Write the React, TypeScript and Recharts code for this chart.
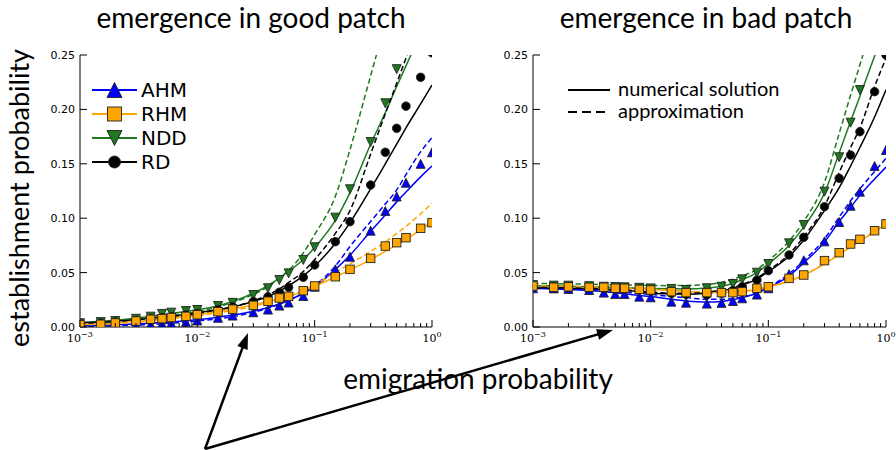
import React from "react";
import { LineChart, Line, XAxis, YAxis } from "recharts";

// emigration probabilities used for both the simulation points and the curves
const emigration = [0.001, 0.0015, 0.002, 0.003, 0.004, 0.005, 0.006, 0.008, 0.01, 0.015, 0.02, 0.03, 0.04, 0.05, 0.06, 0.08, 0.1, 0.15, 0.2, 0.3, 0.4, 0.5, 0.6, 0.8, 1.0];

// ---- emergence in good patch ----
// simulations (markers)
const goodSimAHM = [0.001, 0.0012, 0.0015, 0.002, 0.0025, 0.003, 0.0035, 0.0045, 0.006, 0.0085, 0.0105, 0.0135, 0.016, 0.0197, 0.0225, 0.0285, 0.037, 0.053, 0.0646, 0.0885, 0.1066, 0.12, 0.1326, 0.15, 0.1606];
const goodSimRHM = [0.0022, 0.0025, 0.0037, 0.0055, 0.0071, 0.0077, 0.0087, 0.0098, 0.0113, 0.0141, 0.0164, 0.0199, 0.0237, 0.0267, 0.0282, 0.0334, 0.0377, 0.0462, 0.053, 0.0631, 0.0744, 0.0775, 0.0821, 0.0907, 0.0959];
const goodSimNDD = [0.0035, 0.0045, 0.0055, 0.0075, 0.0095, 0.012, 0.0132, 0.0147, 0.0156, 0.0193, 0.0222, 0.0294, 0.0356, 0.0432, 0.0493, 0.0616, 0.0733, 0.1005, 0.1266, 0.17, 0.2056, 0.237, 0.262, 0.29, 0.31];
const goodSimRD = [0.003, 0.0035, 0.0045, 0.006, 0.0075, 0.0085, 0.0095, 0.011, 0.0125, 0.016, 0.0185, 0.0235, 0.0279, 0.0319, 0.0365, 0.0457, 0.057, 0.0784, 0.0968, 0.1305, 0.1606, 0.1826, 0.203, 0.2295, 0.252];
// numerical solution (solid)
const goodNumAHM = [0.0013, 0.0017, 0.0021, 0.0028, 0.0035, 0.0041, 0.0047, 0.0058, 0.0067, 0.009, 0.011, 0.0145, 0.018, 0.0212, 0.0245, 0.031, 0.037, 0.053, 0.066, 0.088, 0.103, 0.115, 0.124, 0.138, 0.148];
const goodNumRHM = [0.0025, 0.003, 0.0037, 0.005, 0.0063, 0.0074, 0.0084, 0.0099, 0.0113, 0.0142, 0.0166, 0.0203, 0.0235, 0.026, 0.0283, 0.033, 0.0375, 0.046, 0.0525, 0.062, 0.0695, 0.0755, 0.0805, 0.0895, 0.097];
const goodNumNDD = [0.004, 0.0052, 0.0062, 0.0082, 0.0098, 0.0113, 0.0125, 0.0143, 0.0158, 0.0195, 0.0235, 0.031, 0.038, 0.045, 0.051, 0.062, 0.073, 0.098, 0.1235, 0.168, 0.197, 0.221, 0.24, 0.27, 0.295];
const goodNumRD = [0.004, 0.0047, 0.0055, 0.007, 0.0083, 0.0093, 0.0103, 0.0115, 0.013, 0.016, 0.0185, 0.0235, 0.028, 0.033, 0.038, 0.047, 0.056, 0.077, 0.096, 0.127, 0.15, 0.168, 0.183, 0.205, 0.2225];
// approximation (dashed)
const goodAppAHM = [0.0005, 0.0008, 0.0012, 0.0018, 0.0024, 0.003, 0.0035, 0.0045, 0.0055, 0.0075, 0.0095, 0.0135, 0.0172, 0.021, 0.0245, 0.031, 0.038, 0.056, 0.074, 0.097, 0.113, 0.126, 0.14, 0.161, 0.174];
const goodAppRHM = [0.002, 0.0025, 0.003, 0.0043, 0.0055, 0.0065, 0.0075, 0.009, 0.0103, 0.013, 0.0153, 0.019, 0.0225, 0.0255, 0.028, 0.0335, 0.039, 0.05, 0.058, 0.0695, 0.078, 0.086, 0.0925, 0.104, 0.1137];
const goodAppNDD = [0.0035, 0.0045, 0.0055, 0.007, 0.0085, 0.0095, 0.011, 0.0125, 0.014, 0.0185, 0.0225, 0.03, 0.037, 0.045, 0.052, 0.068, 0.085, 0.12, 0.163, 0.231, 0.279, 0.316, 0.35, 0.4, 0.44];
const goodAppRD = [0.0035, 0.0042, 0.005, 0.0065, 0.0078, 0.0088, 0.0098, 0.011, 0.0125, 0.0158, 0.0185, 0.024, 0.0295, 0.035, 0.041, 0.051, 0.062, 0.086, 0.107, 0.159, 0.196, 0.224, 0.247, 0.282, 0.31];

// ---- emergence in bad patch ----
const badSimAHM = [0.0356, 0.0355, 0.035, 0.034, 0.0316, 0.0303, 0.0303, 0.0279, 0.0273, 0.0233, 0.0224, 0.0215, 0.0222, 0.0239, 0.0264, 0.0298, 0.0356, 0.0485, 0.0613, 0.0787, 0.0965, 0.1115, 0.1244, 0.148, 0.1627];
const badSimRHM = [0.0377, 0.0365, 0.037, 0.0365, 0.0365, 0.0356, 0.0356, 0.0346, 0.034, 0.0325, 0.0316, 0.0316, 0.0316, 0.0316, 0.0325, 0.0356, 0.037, 0.0447, 0.0478, 0.061, 0.0683, 0.0763, 0.0806, 0.0885, 0.0947];
const badSimNDD = [0.0385, 0.038, 0.038, 0.0375, 0.037, 0.0368, 0.0365, 0.036, 0.0355, 0.035, 0.034, 0.0356, 0.037, 0.0395, 0.0438, 0.0499, 0.0579, 0.0769, 0.0938, 0.1244, 0.156, 0.1878, 0.2178, 0.262, 0.29];
const badSimRD = [0.037, 0.0368, 0.0365, 0.036, 0.0355, 0.035, 0.0345, 0.034, 0.033, 0.031, 0.03, 0.0295, 0.031, 0.0335, 0.037, 0.0432, 0.0518, 0.0662, 0.0824, 0.1106, 0.1367, 0.158, 0.1795, 0.2163, 0.25];
const badNumAHM = [0.0355, 0.035, 0.0345, 0.0335, 0.0325, 0.0315, 0.0305, 0.029, 0.028, 0.0255, 0.024, 0.023, 0.0235, 0.025, 0.027, 0.031, 0.036, 0.047, 0.059, 0.078, 0.097, 0.11, 0.121, 0.136, 0.147];
const badNumRHM = [0.0378, 0.0374, 0.0371, 0.0367, 0.0363, 0.036, 0.0357, 0.0351, 0.0346, 0.0335, 0.0327, 0.0318, 0.0317, 0.0321, 0.0328, 0.0345, 0.0368, 0.042, 0.0475, 0.058, 0.0665, 0.0735, 0.079, 0.0875, 0.0945];
const badNumNDD = [0.038, 0.0378, 0.0375, 0.037, 0.0366, 0.0363, 0.036, 0.0357, 0.0355, 0.0352, 0.035, 0.0358, 0.0375, 0.04, 0.0435, 0.05, 0.058, 0.075, 0.092, 0.123, 0.16, 0.189, 0.212, 0.249, 0.278];
const badNumRD = [0.036, 0.0357, 0.0355, 0.035, 0.0345, 0.0338, 0.0335, 0.0325, 0.031, 0.0305, 0.03, 0.031, 0.033, 0.0355, 0.0385, 0.044, 0.051, 0.065, 0.08, 0.107, 0.128, 0.148, 0.165, 0.193, 0.218];
const badAppAHM = [0.036, 0.0357, 0.0352, 0.0343, 0.0335, 0.0328, 0.032, 0.031, 0.03, 0.028, 0.027, 0.0255, 0.0255, 0.0262, 0.0275, 0.0315, 0.0365, 0.049, 0.061, 0.081, 0.101, 0.116, 0.127, 0.143, 0.155];
const badAppRHM = [0.038, 0.0376, 0.0373, 0.0369, 0.0365, 0.0362, 0.0359, 0.0353, 0.0348, 0.0337, 0.0329, 0.032, 0.0319, 0.0323, 0.033, 0.0347, 0.037, 0.0423, 0.0478, 0.0583, 0.0668, 0.0738, 0.0793, 0.0878, 0.0948];
const badAppNDD = [0.04, 0.0398, 0.0396, 0.0393, 0.039, 0.0388, 0.0386, 0.0384, 0.0382, 0.038, 0.0382, 0.039, 0.041, 0.044, 0.047, 0.053, 0.061, 0.079, 0.097, 0.133, 0.178, 0.213, 0.241, 0.285, 0.32];
const badAppRD = [0.0365, 0.0362, 0.036, 0.0355, 0.035, 0.0345, 0.034, 0.033, 0.032, 0.0312, 0.031, 0.032, 0.034, 0.036, 0.039, 0.045, 0.052, 0.067, 0.083, 0.111, 0.142, 0.165, 0.183, 0.221, 0.247];

// axes
const xMajorTicks = [0.001, 0.01, 0.1, 1];
const xMajorExponents = ["\u22123", "\u22122", "\u22121", "0"];
const xMinorTicks = [0.002, 0.003, 0.004, 0.005, 0.006, 0.007, 0.008, 0.009, 0.02, 0.03, 0.04, 0.05, 0.06, 0.07, 0.08, 0.09, 0.2, 0.3, 0.4, 0.5, 0.6, 0.7, 0.8, 0.9];
const yTicks = [0, 0.05, 0.1, 0.15, 0.2, 0.25];

const strategies = ["AHM", "RHM", "NDD", "RD"];
const lineLabels = ["numerical solution", "approximation"];

const colors: Record<string, string> = { AHM: "#0000ff", RHM: "#ffa500", NDD: "#1f7a1f", RD: "#000000" };
const shapes: Record<string, string> = { AHM: "up", RHM: "square", NDD: "down", RD: "circle" };
const markerOrder = ["AHM", "NDD", "RD", "RHM"];

const buildRows = (sim: any, num: any, app: any) =>
  emigration.map((x, i) => {
    const row: any = { x };
    strategies.forEach((s) => {
      row["sim" + s] = sim[s][i];
      row["num" + s] = num[s][i];
      row["app" + s] = app[s][i];
    });
    return row;
  });

const goodRows = buildRows(
  { AHM: goodSimAHM, RHM: goodSimRHM, NDD: goodSimNDD, RD: goodSimRD },
  { AHM: goodNumAHM, RHM: goodNumRHM, NDD: goodNumNDD, RD: goodNumRD },
  { AHM: goodAppAHM, RHM: goodAppRHM, NDD: goodAppNDD, RD: goodAppRD }
);
const badRows = buildRows(
  { AHM: badSimAHM, RHM: badSimRHM, NDD: badSimNDD, RD: badSimRD },
  { AHM: badNumAHM, RHM: badNumRHM, NDD: badNumNDD, RD: badNumRD },
  { AHM: badAppAHM, RHM: badAppRHM, NDD: badAppNDD, RD: badAppRD }
);

const Marker = ({ cx, cy, shape, color, size }: any) => {
  if (cx == null || cy == null || isNaN(cx) || isNaN(cy)) return null;
  const h = size / 2;
  const common = { fill: color, stroke: "#222", strokeWidth: 0.9 };
  if (shape === "square") return <rect x={cx - h} y={cy - h} width={size} height={size} {...common} />;
  if (shape === "circle") return <circle cx={cx} cy={cy} r={h} {...common} />;
  if (shape === "up")
    return <polygon points={`${cx},${cy - h} ${cx - h},${cy + h} ${cx + h},${cy + h}`} {...common} />;
  return <polygon points={`${cx},${cy + h} ${cx - h},${cy - h} ${cx + h},${cy - h}`} {...common} />;
};

const markerSize: Record<string, number> = { up: 9, down: 9, square: 8.5, circle: 8.5 };
const legendSize: Record<string, number> = { up: 15, down: 15, square: 14, circle: 12 };

const BottomTick = (props: any) => {
  const { x, y, payload } = props;
  const idx = xMajorTicks.indexOf(payload.value);
  const major = idx >= 0;
  return (
    <g>
      <line x1={x} x2={x} y1={y} y2={y - (major ? 7 : 4)} stroke="#000" strokeWidth={1} />
      {major && (
        <text x={x} y={y + 15} textAnchor="middle" fontFamily="DejaVu Serif" fontSize={11} fill="#000">
          10<tspan dy={-5} fontSize={8}>{xMajorExponents[idx]}</tspan>
        </text>
      )}
    </g>
  );
};

const TopTick = (props: any) => {
  const { x, y, payload } = props;
  const major = xMajorTicks.indexOf(payload.value) >= 0;
  return <line x1={x} x2={x} y1={y} y2={y + (major ? 7 : 4)} stroke="#000" strokeWidth={1} />;
};

const LeftTick = (props: any) => {
  const { x, y, payload } = props;
  return (
    <g>
      <line x1={x} x2={x + 7} y1={y} y2={y} stroke="#000" strokeWidth={1} />
      <text x={x - 5} y={y + 4} textAnchor="end" fontFamily="DejaVu Sans" fontSize={11} fill="#000">
        {payload.value.toFixed(2)}
      </text>
    </g>
  );
};

const RightTick = (props: any) => {
  const { x, y } = props;
  return <line x1={x} x2={x - 7} y1={y} y2={y} stroke="#000" strokeWidth={1} />;
};

const Panel = ({ rows, width, yAxisWidth, rightMargin }: any) => (
  <LineChart width={width} height={345} data={rows} margin={{ top: 55, right: rightMargin, bottom: 0, left: 0 }}>
    <XAxis
      dataKey="x"
      type="number"
      scale="log"
      domain={[0.001, 1]}
      allowDataOverflow
      ticks={[...xMajorTicks, ...xMinorTicks]}
      interval={0}
      height={18}
      tickSize={0}
      tickMargin={0}
      tickLine={false}
      axisLine={{ stroke: "#000" }}
      tick={(p: any) => <BottomTick {...p} />}
    />
    <XAxis
      xAxisId="top"
      orientation="top"
      dataKey="x"
      type="number"
      scale="log"
      domain={[0.001, 1]}
      allowDataOverflow
      ticks={[...xMajorTicks, ...xMinorTicks]}
      interval={0}
      height={0}
      tickSize={0}
      tickMargin={0}
      tickLine={false}
      axisLine={{ stroke: "#000" }}
      tick={(p: any) => <TopTick {...p} />}
    />
    <YAxis
      type="number"
      domain={[0, 0.25]}
      allowDataOverflow
      ticks={yTicks}
      interval={0}
      width={yAxisWidth}
      tickSize={0}
      tickMargin={0}
      tickLine={false}
      axisLine={{ stroke: "#000" }}
      tick={(p: any) => <LeftTick {...p} />}
    />
    <YAxis
      yAxisId="right"
      orientation="right"
      type="number"
      domain={[0, 0.25]}
      allowDataOverflow
      ticks={yTicks}
      interval={0}
      width={0}
      tickSize={0}
      tickMargin={0}
      tickLine={false}
      axisLine={{ stroke: "#000" }}
      tick={(p: any) => <RightTick {...p} />}
    />
    {strategies.map((s) => (
      <Line
        key={"num" + s}
        type="monotone"
        dataKey={"num" + s}
        stroke={colors[s]}
        strokeWidth={1.5}
        dot={false}
        activeDot={false}
        isAnimationActive={false}
      />
    ))}
    {strategies.map((s) => (
      <Line
        key={"app" + s}
        type="monotone"
        dataKey={"app" + s}
        stroke={colors[s]}
        strokeWidth={1.5}
        strokeDasharray="5.5 3"
        dot={false}
        activeDot={false}
        isAnimationActive={false}
      />
    ))}
    {markerOrder.map((s) => (
      <Line
        key={"sim" + s}
        dataKey={"sim" + s}
        stroke="none"
        activeDot={false}
        isAnimationActive={false}
        dot={(p: any) => (
          <Marker key={p.index} cx={p.cx} cy={p.cy} shape={shapes[s]} color={colors[s]} size={markerSize[shapes[s]]} />
        )}
      />
    ))}
  </LineChart>
);

const Arrow = ({ x1, y1, x2, y2 }: any) => {
  const len = Math.hypot(x2 - x1, y2 - y1);
  const ux = (x2 - x1) / len;
  const uy = (y2 - y1) / len;
  const L = 16;
  const hw = 5.5;
  const bx = x2 - ux * L;
  const by = y2 - uy * L;
  return (
    <g>
      <line x1={x1} y1={y1} x2={bx + ux * 2} y2={by + uy * 2} stroke="#000" strokeWidth={2.5} />
      <polygon points={`${x2},${y2} ${bx - uy * hw},${by + ux * hw} ${bx + uy * hw},${by - ux * hw}`} fill="#000" />
    </g>
  );
};

const font = "Lato, 'Open Sans', sans-serif";

export default function App() {
  return (
    <div style={{ position: "absolute", left: 0, top: 0, width: 896, height: 450, background: "#fff", overflow: "hidden" }}>
      <div style={{ position: "absolute", left: 0, top: 0 }}>
        <Panel rows={goodRows} width={460} yAxisWidth={80} rightMargin={28} />
      </div>
      <div style={{ position: "absolute", left: 480, top: 0 }}>
        <Panel rows={badRows} width={430} yAxisWidth={53} rightMargin={24} />
      </div>
      <svg width={896} height={450} style={{ position: "absolute", left: 0, top: 0, pointerEvents: "none" }}>
        <text x={251} y={28} textAnchor="middle" fontFamily={font} fontSize={28} fill="#000">
          emergence in good patch
        </text>
        <text x={706} y={28} textAnchor="middle" fontFamily={font} fontSize={28} fill="#000">
          emergence in bad patch
        </text>
        <text
          x={0}
          y={0}
          transform="translate(29, 198) rotate(-90)"
          textAnchor="middle"
          fontFamily={font}
          fontSize={27}
          fill="#000"
        >
          establishment probability
        </text>
        <text x={478} y={389} textAnchor="middle" fontFamily={font} fontSize={28} fill="#000">
          emigration probability
        </text>

        {/* legend, good patch */}
        {strategies.map((s, i) => {
          const y = 90 + i * 24;
          return (
            <g key={s}>
              <line x1={92} x2={137} y1={y} y2={y} stroke={colors[s]} strokeWidth={2} />
              <Marker cx={114.5} cy={y} shape={shapes[s]} color={colors[s]} size={legendSize[shapes[s]]} />
              <text x={141} y={y + 7} fontFamily="DejaVu Sans" fontSize={20} fill="#000">
                {s}
              </text>
            </g>
          );
        })}

        {/* legend, bad patch */}
        {lineLabels.map((label, i) => {
          const y = 90 + i * 22;
          return (
            <g key={label}>
              <line
                x1={568}
                x2={610}
                y1={y}
                y2={y}
                stroke="#000"
                strokeWidth={2}
                strokeDasharray={i === 1 ? "9 5" : undefined}
              />
              <text x={618} y={y + 6} fontFamily={font} fontSize={20} fill="#000">
                {label}
              </text>
            </g>
          );
        })}

        <Arrow x1={205} y1={449} x2={248} y2={333} />
        <Arrow x1={205} y1={449} x2={613} y2={330} />
      </svg>
    </div>
  );
}
